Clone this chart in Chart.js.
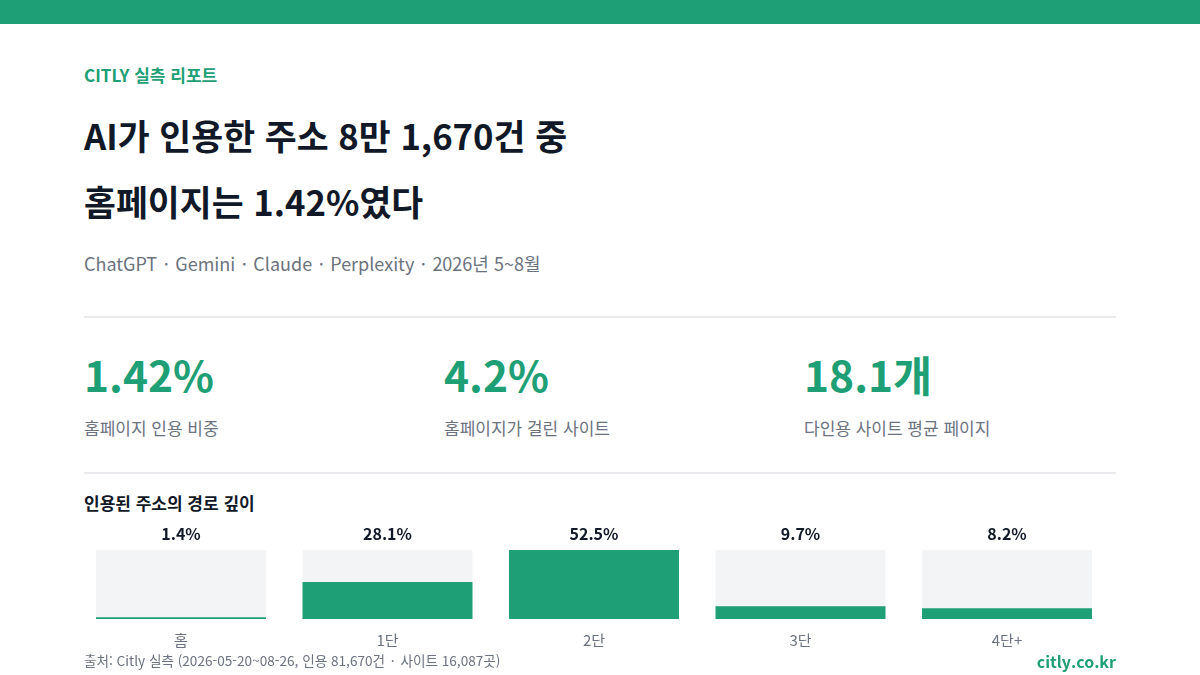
<!DOCTYPE html>
<html lang="ko">
<head>
<meta charset="utf-8">
<title>AI가 인용한 주소의 경로 깊이</title>
<script src="https://cdn.jsdelivr.net/npm/chart.js@4/dist/chart.umd.min.js"></script>
<style>
    html, body { margin: 0; padding: 0; }
    body {
        width: 1200px;
        height: 675px;
        position: relative;
        overflow: hidden;
        background: #ffffff;
        font-family: "Noto Sans CJK KR", "Noto Sans", sans-serif;
    }
    .top-bar { position: absolute; left: 0; top: 0; width: 1200px; height: 24px; background: #1e9f75; }
    .abs { position: absolute; white-space: nowrap; line-height: 1; }
    .eyebrow { left: 84px; top: 66px; font-size: 17px; font-weight: 700; color: #1e9f75; }
    .title { left: 84px; font-size: 34.7px; font-weight: 700; color: #111827; }
    .subtitle { left: 84px; top: 254px; font-size: 18px; color: #6b7280; }
    .subtitle .dot { margin: 0 1.5px; }
    .rule { position: absolute; left: 84px; width: 1032px; height: 2px; background: #e8eaed; }
    .stat-num { font-size: 42.5px; font-weight: 700; color: #1e9f75; top: 353px; }
    .stat-label { font-size: 17px; color: #6b7280; top: 419px; }
    .chart-title { left: 84px; top: 494px; font-size: 17px; font-weight: 700; color: #111827; }
    .source { left: 84px; top: 654px; font-size: 13.6px; color: #6b7280; }
    .source .dot { margin: 0 2px; }
    .brand { right: 84px; top: 653px; font-size: 16px; font-weight: 700; color: #1e9f75; }
    #chart-wrap { position: absolute; left: 0; top: 515px; width: 1200px; height: 146px; }
</style>
</head>
<body>
<div class="top-bar"></div>
<div class="abs eyebrow">CITLY 실측 리포트</div>
<div class="abs title" style="top:118px">AI가 인용한 주소 8만 1,670건 중</div>
<div class="abs title" style="top:184px">홈페이지는 1.42%였다</div>
<div class="abs subtitle">ChatGPT <span class="dot">·</span> Gemini <span class="dot">·</span> Claude <span class="dot">·</span> Perplexity <span class="dot">·</span> 2026년 5~8월</div>
<div class="rule" style="top:316px"></div>

<div class="abs stat-num" style="left:84px">1.42%</div>
<div class="abs stat-label" style="left:84px">홈페이지 인용 비중</div>
<div class="abs stat-num" style="left:444px">4.2%</div>
<div class="abs stat-label" style="left:444px">홈페이지가 걸린 사이트</div>
<div class="abs stat-num" style="left:804px">18.1개</div>
<div class="abs stat-label" style="left:804px">다인용 사이트 평균 페이지</div>

<div class="rule" style="top:472px"></div>
<div class="abs chart-title">인용된 주소의 경로 깊이</div>

<div id="chart-wrap"><canvas id="depthChart"></canvas></div>

<div class="abs source">출처: Citly 실측 (2026-05-20~08-26, 인용 81,670건 <span class="dot">·</span> 사이트 16,087곳)</div>
<div class="abs brand">citly.co.kr</div>

<script>
// Data
const depthLabels = ['홈', '1단', '2단', '3단', '4단+'];
const depthShares = [1.4, 28.1, 52.5, 9.7, 8.2];

const GREEN = '#1e9f75';
const TRACK = '#f3f4f6';

// the largest share fills its whole track
const maxShare = Math.max(...depthShares);
const trackValues = depthLabels.map(() => maxShare);

// Value labels above each track
const valueLabels = {
    id: 'valueLabels',
    afterDatasetsDraw(chart) {
        const { ctx, chartArea, scales } = chart;
        ctx.save();
        ctx.font = '700 16px "Noto Sans CJK KR", sans-serif';
        ctx.fillStyle = '#111827';
        ctx.textAlign = 'center';
        ctx.textBaseline = 'middle';
        depthShares.forEach((v, i) => {
            const x = scales.x.getPixelForValue(i);
            ctx.fillText(v.toFixed(1) + '%', x, chartArea.top - 16);
        });
        ctx.restore();
    }
};

const ctx = document.getElementById('depthChart').getContext('2d');
new Chart(ctx, {
    type: 'bar',
    data: {
        labels: depthLabels,
        datasets: [
            {
                label: '비중',
                data: depthShares,
                backgroundColor: GREEN,
                grouped: false,
                order: 1,
                barPercentage: 0.823,
                categoryPercentage: 1
            },
            {
                label: 'track',
                data: trackValues,
                backgroundColor: TRACK,
                grouped: false,
                order: 2,
                barPercentage: 0.823,
                categoryPercentage: 1
            }
        ]
    },
    options: {
        responsive: true,
        maintainAspectRatio: false,
        animation: false,
        layout: { padding: { top: 35, left: 77.75, right: 89.75, bottom: 0 } },
        plugins: {
            legend: { display: false },
            tooltip: { enabled: false }
        },
        scales: {
            x: {
                grid: { display: false, drawTicks: false },
                border: { display: false },
                ticks: {
                    color: '#6b7280',
                    padding: 12,
                    font: { family: '"Noto Sans CJK KR", sans-serif', size: 15 }
                }
            },
            y: {
                display: false,
                min: 0,
                max: maxShare
            }
        }
    },
    plugins: [valueLabels]
});
</script>
</body>
</html>
